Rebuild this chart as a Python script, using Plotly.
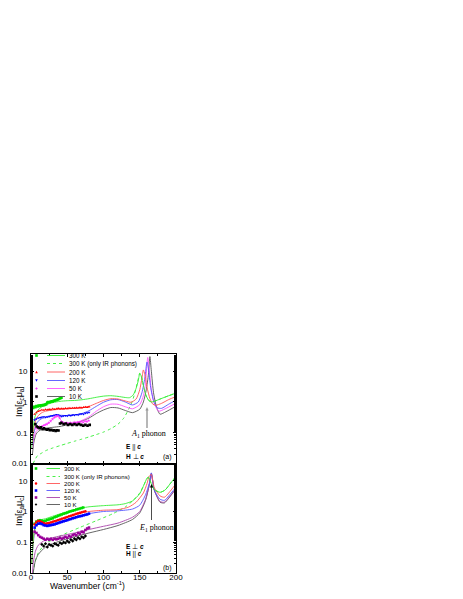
import plotly.graph_objects as go
from plotly.subplots import make_subplots

# ---------------- Panel (a) : E || c, H ⊥ c ----------------
a300_data_x = [3, 4.5, 6, 7.5, 9, 10.5, 12, 13.5, 15, 16.5, 18, 19.5, 21, 22.5, 24, 25.5, 27, 28.5, 30, 31.5, 33, 34.5, 36, 37.5, 39, 40.5, 42]
a300_data_y = [0.64, 0.7, 0.68, 0.74, 0.72, 0.76, 0.75, 0.78, 0.77, 0.8, 0.79, 0.82, 0.85, 0.95, 1.0, 0.98, 1.02, 1.05, 1.04, 1.1, 1.12, 1.15, 1.18, 1.22, 1.28, 1.32, 1.38]
a200_data_x = [5, 7.5, 10, 12.5, 15, 17.5, 20, 22.5, 25, 27.5, 30, 32.5, 35, 37.5, 40, 42.5, 45, 47.5, 50, 52.5, 55, 57.5, 60, 62.5, 65, 67.5, 70, 72.5, 75, 77.5, 80]
a200_data_y = [0.4, 0.45, 0.5, 0.52, 0.55, 0.54, 0.57, 0.56, 0.58, 0.57, 0.6, 0.58, 0.6, 0.62, 0.6, 0.61, 0.6, 0.62, 0.61, 0.63, 0.62, 0.64, 0.63, 0.65, 0.64, 0.66, 0.65, 0.67, 0.68, 0.67, 0.7]
a120_data_x = [5, 7.5, 10, 12.5, 15, 17.5, 20, 22.5, 25, 27.5, 30, 32.5, 35, 37.5, 40, 42.5, 45, 47.5, 50, 52.5, 55, 57.5, 60, 62.5, 65, 67.5, 70, 72.5, 75, 77.5, 80]
a120_data_y = [0.26, 0.28, 0.3, 0.31, 0.32, 0.33, 0.32, 0.33, 0.34, 0.35, 0.36, 0.37, 0.39, 0.38, 0.35, 0.34, 0.35, 0.36, 0.35, 0.37, 0.36, 0.38, 0.37, 0.39, 0.38, 0.4, 0.41, 0.4, 0.43, 0.44, 0.46]
a50_data_x = [7, 9.5, 12, 14.5, 17, 19.5, 22, 24.5, 27, 29.5, 32, 34.5, 37, 39.5, 42, 44.5, 47, 49.5, 52, 54.5, 57, 59.5, 62, 64.5, 67, 69.5, 72, 74.5, 77, 79.5]
a50_data_y = [0.14, 0.15, 0.16, 0.16, 0.17, 0.18, 0.19, 0.21, 0.24, 0.28, 0.32, 0.34, 0.35, 0.3, 0.23, 0.21, 0.2, 0.21, 0.2, 0.21, 0.2, 0.22, 0.21, 0.22, 0.21, 0.23, 0.22, 0.24, 0.23, 0.25]
a10_data_x = [6, 8, 10, 12, 14, 16, 18, 20, 22, 24, 26, 28, 30, 32, 34, 36, 38, 40, 42, 45, 48, 51, 54, 57, 60, 63, 66, 69, 72, 75, 78, 81]
a10_data_y = [0.19, 0.16, 0.15, 0.14, 0.15, 0.13, 0.14, 0.13, 0.125, 0.13, 0.12, 0.125, 0.118, 0.12, 0.115, 0.12, 0.118, 0.2, 0.21, 0.19, 0.2, 0.18, 0.19, 0.18, 0.19, 0.18, 0.19, 0.18, 0.17, 0.18, 0.17, 0.18]

a300_x = [1, 2, 3, 5, 8, 12, 16, 20, 30, 40, 50, 60, 70, 80, 90, 100, 110, 120, 130, 136, 141, 145, 148, 150, 152, 155, 158, 162, 166, 170, 180, 190, 200]
a300_y = [0.03, 0.08, 0.15, 0.3, 0.48, 0.62, 0.72, 0.8, 0.95, 1.05, 1.1, 1.12, 1.18, 1.28, 1.42, 1.55, 1.6, 1.52, 1.4, 1.38, 1.7, 2.8, 5.0, 8.5, 7.0, 3.5, 1.8, 1.15, 1.0, 1.05, 1.3, 1.6, 1.95]
a300ir_x = [3, 6, 9, 15, 20, 30, 40, 50, 60, 70, 80, 90, 100, 110, 120, 128, 135, 140, 144, 147, 150, 152, 155, 158, 162, 166, 170, 180, 190, 200]
a300ir_y = [0.01, 0.014, 0.018, 0.022, 0.026, 0.032, 0.038, 0.045, 0.053, 0.062, 0.073, 0.087, 0.105, 0.135, 0.19, 0.3, 0.6, 1.1, 2.3, 4.5, 8.5, 7.0, 3.5, 1.8, 1.15, 1.0, 1.05, 1.3, 1.6, 1.95]
a200_x = [2, 4, 7, 10, 15, 20, 30, 40, 50, 60, 70, 80, 90, 100, 110, 120, 130, 138, 145, 150, 153, 155, 157, 160, 164, 168, 172, 180, 190, 200]
a200_y = [0.05, 0.15, 0.28, 0.36, 0.45, 0.5, 0.55, 0.58, 0.6, 0.62, 0.65, 0.72, 0.9, 1.12, 1.28, 1.25, 1.08, 0.98, 1.25, 2.5, 6.0, 11.0, 8.0, 3.0, 1.3, 0.85, 0.78, 0.9, 1.2, 1.5]
a120_x = [2, 4, 7, 10, 15, 20, 30, 40, 50, 60, 70, 80, 90, 100, 110, 120, 130, 140, 148, 153, 157, 160, 162, 165, 169, 174, 180, 190, 200]
a120_y = [0.04, 0.1, 0.18, 0.24, 0.29, 0.31, 0.35, 0.37, 0.36, 0.38, 0.42, 0.52, 0.72, 0.98, 1.18, 1.2, 1.0, 0.8, 1.0, 2.0, 6.0, 20.0, 12.0, 3.0, 1.1, 0.65, 0.62, 0.85, 1.15]
a50_x = [2, 4, 7, 10, 15, 20, 25, 30, 35, 38, 41, 45, 50, 60, 70, 80, 90, 100, 110, 120, 130, 140, 150, 155, 158, 161, 163, 166, 170, 176, 185, 200]
a50_y = [0.03, 0.07, 0.11, 0.13, 0.16, 0.18, 0.21, 0.27, 0.33, 0.34, 0.26, 0.21, 0.2, 0.21, 0.25, 0.33, 0.5, 0.7, 0.85, 0.84, 0.7, 0.6, 0.82, 1.6, 4.0, 28.0, 12.0, 2.5, 0.9, 0.5, 0.6, 0.92]
a10_x = [2, 4, 7, 10, 15, 20, 30, 40, 50, 60, 70, 80, 90, 100, 110, 120, 130, 140, 150, 155, 159, 162, 164, 166, 169, 173, 178, 186, 200]
a10_y = [0.02, 0.05, 0.09, 0.11, 0.13, 0.14, 0.15, 0.16, 0.18, 0.2, 0.24, 0.3, 0.42, 0.55, 0.66, 0.64, 0.53, 0.45, 0.58, 1.0, 2.5, 8.0, 30.0, 10.0, 2.0, 0.7, 0.4, 0.48, 0.73]

# ---------------- Panel (b) : E ⊥ c, H || c ----------------
b300_data_x = [5, 7.5, 10, 12.5, 15, 17.5, 20, 22.5, 25, 27.5, 30, 32.5, 35, 37.5, 40, 42.5, 45, 47.5, 50, 52.5, 55, 57.5, 60, 62.5, 65, 67.5, 70, 72]
b300_data_y = [0.4, 0.47, 0.5, 0.52, 0.5, 0.48, 0.5, 0.53, 0.55, 0.58, 0.6, 0.65, 0.68, 0.72, 0.76, 0.8, 0.85, 0.88, 0.92, 0.98, 1.02, 1.06, 1.1, 1.16, 1.2, 1.25, 1.3, 1.35]
b200_data_x = [5, 7.5, 10, 12.5, 15, 17.5, 20, 22.5, 25, 27.5, 30, 32.5, 35, 37.5, 40, 42.5, 45, 47.5, 50, 52.5, 55, 57.5, 60, 62.5, 65, 67.5, 70, 72.5, 75]
b200_data_y = [0.38, 0.45, 0.5, 0.48, 0.45, 0.42, 0.4, 0.41, 0.42, 0.44, 0.46, 0.48, 0.5, 0.53, 0.55, 0.58, 0.6, 0.63, 0.66, 0.7, 0.73, 0.76, 0.8, 0.84, 0.87, 0.9, 0.94, 0.98, 1.02]
b120_data_x = [5, 7.5, 10, 12.5, 15, 17.5, 20, 22.5, 25, 27.5, 30, 32.5, 35, 37.5, 40, 42.5, 45, 47.5, 50, 52.5, 55, 57.5, 60, 62.5, 65, 67.5, 70, 72.5, 75, 77.5, 80]
b120_data_y = [0.3, 0.36, 0.4, 0.41, 0.39, 0.36, 0.35, 0.34, 0.35, 0.36, 0.37, 0.38, 0.4, 0.42, 0.44, 0.46, 0.48, 0.5, 0.52, 0.55, 0.57, 0.6, 0.62, 0.65, 0.68, 0.7, 0.72, 0.75, 0.78, 0.8, 0.85]
b50_data_x = [5, 7.5, 10, 12.5, 15, 17.5, 20, 22.5, 25, 27.5, 30, 32.5, 35, 37.5, 40, 42.5, 45, 47.5, 50, 52.5, 55, 57.5, 60, 62.5, 65, 67.5, 70, 72.5, 75, 77.5, 80]
b50_data_y = [0.22, 0.2, 0.17, 0.15, 0.14, 0.13, 0.12, 0.13, 0.12, 0.13, 0.12, 0.13, 0.125, 0.13, 0.14, 0.13, 0.14, 0.15, 0.14, 0.16, 0.15, 0.17, 0.18, 0.17, 0.2, 0.19, 0.22, 0.21, 0.25, 0.28, 0.3]
b10_data_x = [15, 17.5, 20, 22.5, 25, 27.5, 30, 32.5, 35, 37.5, 40, 42.5, 45, 47.5, 50, 52.5, 55, 57.5, 60, 62.5, 65, 67.5, 70, 72.5, 75]
b10_data_y = [0.085, 0.075, 0.09, 0.07, 0.085, 0.08, 0.075, 0.09, 0.085, 0.08, 0.095, 0.09, 0.1, 0.095, 0.11, 0.1, 0.12, 0.11, 0.13, 0.12, 0.14, 0.13, 0.15, 0.14, 0.16]

b300_x = [1, 2, 4, 7, 10, 15, 20, 30, 40, 50, 60, 70, 80, 100, 120, 130, 140, 150, 156, 160, 162, 165, 170, 178, 185, 192, 200]
b300_y = [0.02, 0.05, 0.2, 0.4, 0.5, 0.55, 0.58, 0.7, 0.83, 0.98, 1.15, 1.3, 1.42, 1.55, 1.65, 1.8, 2.2, 3.8, 7.5, 12.0, 13.0, 9.0, 5.2, 4.2, 5.0, 8.0, 14.0]
b300ir_x = [3, 5, 10, 20, 40, 67, 90, 113, 130, 140, 150, 156, 160, 162, 165, 170, 178, 185, 192, 200]
b300ir_y = [0.01, 0.02, 0.045, 0.09, 0.16, 0.3, 0.5, 0.85, 1.4, 2.2, 4.0, 7.5, 12.0, 13.0, 9.0, 5.2, 4.2, 5.0, 8.0, 14.0]
b200_x = [1, 3, 6, 10, 15, 20, 30, 40, 50, 60, 70, 80, 100, 120, 135, 145, 155, 160, 163, 166, 170, 178, 184, 190, 200]
b200_y = [0.02, 0.1, 0.35, 0.45, 0.45, 0.42, 0.48, 0.56, 0.66, 0.78, 0.9, 1.0, 1.1, 1.15, 1.4, 2.0, 4.0, 8.0, 14.0, 16.0, 6.0, 3.2, 2.9, 4.0, 8.0]
b120_x = [1, 3, 6, 10, 15, 20, 30, 40, 50, 60, 70, 80, 100, 120, 140, 150, 158, 163, 166, 170, 178, 184, 190, 200]
b120_y = [0.02, 0.08, 0.3, 0.38, 0.38, 0.35, 0.4, 0.47, 0.55, 0.65, 0.75, 0.85, 1.0, 1.05, 1.2, 1.6, 3.5, 8.0, 18.0, 5.0, 2.5, 2.3, 3.2, 6.2]
b50_x = [2, 3, 6, 10, 20, 40, 60, 80, 100, 120, 140, 150, 158, 163, 166, 170, 178, 184, 190, 200]
b50_y = [0.01, 0.02, 0.05, 0.08, 0.12, 0.16, 0.2, 0.26, 0.33, 0.42, 0.65, 1.0, 2.5, 7.0, 17.0, 5.0, 2.1, 2.0, 2.8, 5.6]
b10_x = [3, 6, 10, 20, 40, 60, 80, 100, 120, 140, 150, 158, 163, 166, 170, 178, 184, 190, 200]
b10_y = [0.01, 0.025, 0.04, 0.07, 0.11, 0.15, 0.2, 0.26, 0.35, 0.55, 0.9, 2.3, 7.0, 17.0, 5.0, 2.0, 1.9, 2.7, 5.5]

legend_labels = ["300 K", "300 K (only IR phonons)", "200 K", "120 K", "50 K", "10 K"]
x_ticks = [0, 50, 100, 150, 200]
y_ticks = [0.01, 0.1, 1, 10]
y_ticklabels = ["0.01", "0.1", "1", "10"]

GREEN_D = "#00dd00"
GREEN_L = "#33ee33"
RED_D = "#ff0000"
RED_L = "#ff5555"
BLUE_D = "#0000ff"
BLUE_L = "#5555ff"
MAG = "#ff33ff"
MAG_L = "#ff55ff"
PUR = "#990099"
PUR_L = "#aa44aa"
BLK = "#000000"
GRY = "#555555"

fig = make_subplots(rows=2, cols=1, shared_xaxes=True, vertical_spacing=0)

def model(x, y, color, row, dash="solid"):
    fig.add_trace(go.Scatter(x=x, y=y, mode="lines", line=dict(color=color, width=0.9, dash=dash, shape="spline", smoothing=0.6),
                             showlegend=False, hoverinfo="skip"), row=row, col=1)

def data(x, y, color, symbol, row):
    fig.add_trace(go.Scatter(x=x, y=y, mode="markers", marker=dict(color=color, size=2.6, symbol=symbol, line=dict(width=0)),
                             showlegend=False, hoverinfo="skip"), row=row, col=1)

# panel a
model(a300ir_x, a300ir_y, GREEN_L, 1, "dot")
model(a10_x, a10_y, GRY, 1)
model(a50_x, a50_y, MAG_L, 1)
model(a120_x, a120_y, BLUE_L, 1)
model(a200_x, a200_y, RED_L, 1)
model(a300_x, a300_y, GREEN_L, 1)
data(a300_data_x, a300_data_y, GREEN_D, "square", 1)
data(a200_data_x, a200_data_y, RED_D, "triangle-up", 1)
data(a120_data_x, a120_data_y, BLUE_D, "triangle-down", 1)
data(a50_data_x, a50_data_y, MAG, "star", 1)
data(a10_data_x, a10_data_y, BLK, "square", 1)

# panel b
model(b300ir_x, b300ir_y, GREEN_L, 2, "dot")
model(b10_x, b10_y, GRY, 2)
model(b50_x, b50_y, PUR_L, 2)
model(b120_x, b120_y, BLUE_L, 2)
model(b200_x, b200_y, RED_L, 2)
model(b300_x, b300_y, GREEN_L, 2)
data(b300_data_x, b300_data_y, GREEN_D, "square", 2)
data(b200_data_x, b200_data_y, RED_D, "circle", 2)
data(b120_data_x, b120_data_y, BLUE_D, "square", 2)
data(b50_data_x, b50_data_y, PUR, "square", 2)
data(b10_data_x, b10_data_y, BLK, "diamond", 2)

# page body has an 8 px margin, so the figure starts at (8, 8) in the screenshot
OFF = 8
W, H = 463 - OFF, 599 - OFF
L, R, T, B = 31, 176, 354, 573          # plot area in screenshot pixels
fig.update_layout(
    width=W, height=H,
    margin=dict(l=L - OFF, r=W - (R - OFF), t=T - OFF, b=H - (B - OFF), autoexpand=False),
    paper_bgcolor="white", plot_bgcolor="white",
    font=dict(family="Liberation Sans, Arial", size=8, color="black"),
    showlegend=False,
)

axcommon = dict(showline=True, linecolor="black", linewidth=0.8, mirror="ticks", ticks="inside",
                ticklen=3, tickwidth=0.6, tickcolor="black", showgrid=False, zeroline=False,
                tickfont=dict(size=8), automargin=False)
fig.update_xaxes(range=[0, 200], tickvals=x_ticks, ticklabelstandoff=-4,
                 minor=dict(ticks="inside", ticklen=2, dtick=25, tickcolor="black"), **axcommon)
fig.update_xaxes(showticklabels=False, row=1, col=1)
fig.update_yaxes(type="log", range=[-2, 1.56], tickvals=y_ticks, ticktext=y_ticklabels, ticklabelstandoff=1,
                 minor=dict(ticks="inside", ticklen=2, tickcolor="black"), **axcommon)

def px(xp):
    return (xp - L) / (R - L)

def py(yp):
    return (B - yp) / (B - T)

# axis titles
fig.add_annotation(xref="paper", yref="paper", x=px(87), y=py(585), text="Wavenumber (cm<sup>-1</sup>)",
                   showarrow=False, font=dict(size=8.5), xanchor="center", yanchor="middle")
fig.add_annotation(xref="paper", yref="paper", x=px(19), y=py(402), text="Im[ε<sub>c</sub>μ<sub>a</sub>]",
                   showarrow=False, textangle=-90, font=dict(size=9), xanchor="center", yanchor="middle")
fig.add_annotation(xref="paper", yref="paper", x=px(19), y=py(511), text="Im[ε<sub>a</sub>μ<sub>c</sub>]",
                   showarrow=False, textangle=-90, font=dict(size=9), xanchor="center", yanchor="middle")

def marker_shape(kind, cx, cy, color, s=1.3):
    if kind == "square":
        fig.add_shape(type="rect", xref="paper", yref="paper", x0=px(cx - s), x1=px(cx + s), y0=py(cy + s), y1=py(cy - s),
                      fillcolor=color, line=dict(width=0))
    elif kind == "circle":
        fig.add_shape(type="circle", xref="paper", yref="paper", x0=px(cx - s), x1=px(cx + s), y0=py(cy + s), y1=py(cy - s),
                      fillcolor=color, line=dict(width=0))
    else:
        if kind == "up":
            pts = [(cx - s, cy + s), (cx + s, cy + s), (cx, cy - s)]
        elif kind == "down":
            pts = [(cx - s, cy - s), (cx + s, cy - s), (cx, cy + s)]
        else:
            pts = [(cx - s, cy), (cx, cy - s), (cx + s, cy), (cx, cy + s)]
        path = "M " + " L ".join(f"{px(a):.5f},{py(b):.5f}" for a, b in pts) + " Z"
        fig.add_shape(type="path", xref="paper", yref="paper", path=path, fillcolor=color, line=dict(width=0))

# legends
leg_a = dict(rows=[355.5, 363.5, 372, 380.5, 388.5, 396.5], mx=36.5, l0=47, l1=65, tx=67, fs=6.3,
             syms=["square", None, "up", "down", "diamond", "square"], sc=[GREEN_D, None, RED_D, BLUE_D, MAG, BLK],
             lc=[GREEN_L, GREEN_L, RED_L, BLUE_L, MAG_L, GRY])
leg_b = dict(rows=[468.5, 476.5, 483.5, 490.5, 497.5, 504.5], mx=36, l0=46.5, l1=60, tx=61.5, fs=6.1,
             syms=["square", None, "circle", "square", "square", "diamond"], sc=[GREEN_D, None, RED_D, BLUE_D, PUR, BLK],
             lc=[GREEN_L, GREEN_L, RED_L, BLUE_L, PUR_L, GRY])
for leg in (leg_a, leg_b):
    for i, lab in enumerate(legend_labels):
        yy = leg["rows"][i]
        if leg["syms"][i]:
            marker_shape(leg["syms"][i], leg["mx"], yy, leg["sc"][i])
        fig.add_shape(type="line", xref="paper", yref="paper", x0=px(leg["l0"]), x1=px(leg["l1"]), y0=py(yy), y1=py(yy),
                      line=dict(color=leg["lc"][i], width=0.9, dash="dot" if i == 1 else "solid"))
        fig.add_annotation(xref="paper", yref="paper", x=px(leg["tx"]), y=py(yy), text=lab, showarrow=False,
                           font=dict(size=leg["fs"]), xanchor="left", yanchor="middle")

# phonon labels and arrows (drawn as shapes)
def arrow(xa, ytail, yhead, color, width):
    fig.add_shape(type="line", xref="paper", yref="paper", x0=px(xa), x1=px(xa), y0=py(ytail), y1=py(yhead + 3),
                  line=dict(color=color, width=width))
    path = f"M {px(xa - 1.6):.5f},{py(yhead + 3.5):.5f} L {px(xa + 1.6):.5f},{py(yhead + 3.5):.5f} L {px(xa):.5f},{py(yhead):.5f} Z"
    fig.add_shape(type="path", xref="paper", yref="paper", path=path, fillcolor=color, line=dict(width=0))

fig.add_annotation(xref="paper", yref="paper", x=px(148), y=py(434),
                   text="<i>A</i><sub>1</sub> phonon", showarrow=False,
                   font=dict(family="Liberation Serif, Times New Roman", size=8), xanchor="center", yanchor="middle")
arrow(147, 428, 407, "#999999", 1.4)
fig.add_annotation(xref="paper", yref="paper", x=px(156), y=py(528),
                   text="<i>E</i><sub>1</sub> phonon", showarrow=False,
                   font=dict(family="Liberation Serif, Times New Roman", size=8), xanchor="center", yanchor="middle")
arrow(151.5, 520, 484, "#000000", 0.7)

# field orientation labels
for txt, xx, yy in [("<b>E</b> || <b><i>c</i></b>", 124, 447), ("<b>H</b> ⊥ <b><i>c</i></b>", 124, 456),
                    ("<b>E</b> ⊥ <b><i>c</i></b>", 124, 546), ("<b>H</b> || <b><i>c</i></b>", 124, 553.5)]:
    fig.add_annotation(xref="paper", yref="paper", x=px(xx), y=py(yy), text=txt, showarrow=False,
                       font=dict(size=6.5), xanchor="left", yanchor="middle")
fig.add_annotation(xref="paper", yref="paper", x=px(167), y=py(456.5), text="(a)", showarrow=False,
                   font=dict(size=7), xanchor="center", yanchor="middle")
fig.add_annotation(xref="paper", yref="paper", x=px(167), y=py(567.5), text="(b)", showarrow=False,
                   font=dict(size=7), xanchor="center", yanchor="middle")

fig.write_html("out.html")
